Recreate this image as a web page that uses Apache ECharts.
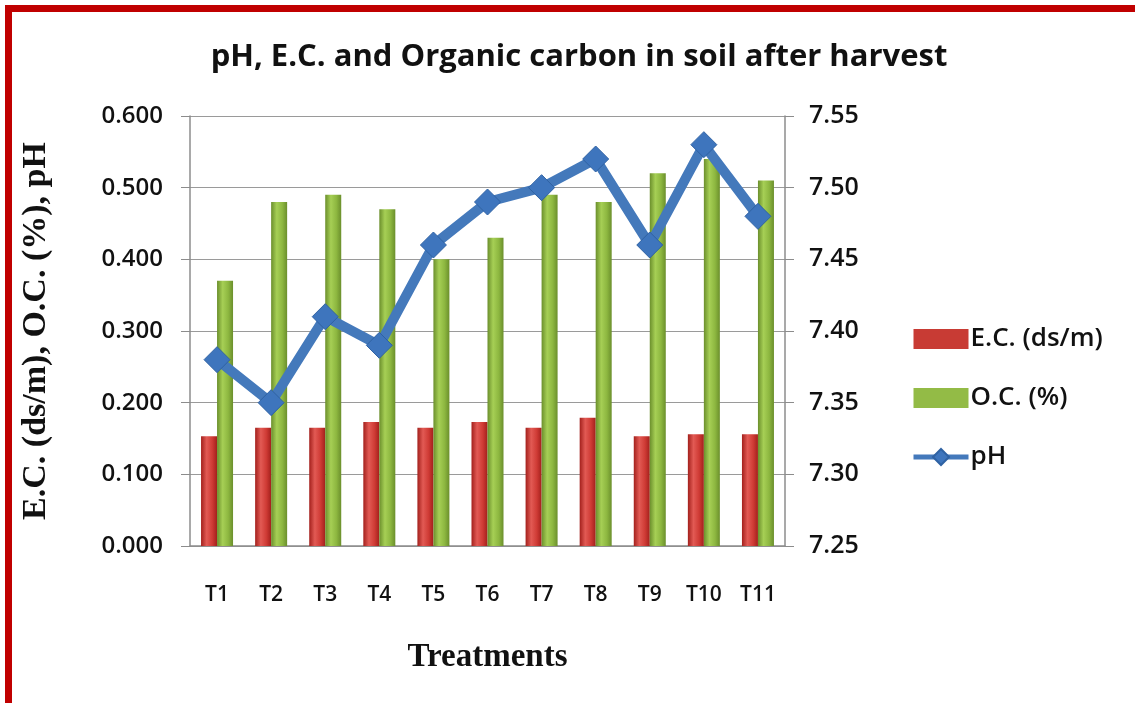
<!DOCTYPE html>
<html>
<head>
<meta charset="utf-8">
<script src="https://cdn.jsdelivr.net/npm/echarts@6/dist/echarts.min.js"></script>
<style>
  html, body { margin: 0; padding: 0; background: #fff; }
  #frame { position: absolute; left: 5px; top: 5px; width: 1130px; height: 698px;
           border-top: 7px solid #c00000; border-left: 7px solid #c00000; box-sizing: border-box; }
  #chart { position: absolute; left: 0; top: 0; width: 1135px; height: 703px; }
</style>
</head>
<body>
<div id="frame"></div>
<div id="chart"></div>
<script>
var treatments = ['T1', 'T2', 'T3', 'T4', 'T5', 'T6', 'T7', 'T8', 'T9', 'T10', 'T11'];
var ecValues = [0.153, 0.165, 0.165, 0.173, 0.165, 0.173, 0.165, 0.179, 0.153, 0.156, 0.156];
var ocValues = [0.37, 0.48, 0.49, 0.47, 0.40, 0.43, 0.49, 0.48, 0.52, 0.54, 0.51];
var phValues = [7.38, 7.35, 7.41, 7.39, 7.46, 7.49, 7.50, 7.52, 7.46, 7.53, 7.48];

var font = "'Open Sans', 'Noto Sans', sans-serif";
var serif = "'Liberation Serif', 'DejaVu Serif', serif";

// horizontal gradient to fake the cylinder shading of the bars
function cylinder(dark, mid, light) {
    return new echarts.graphic.LinearGradient(0, 0, 1, 0, [
        { offset: 0, color: dark },
        { offset: 0.35, color: light },
        { offset: 0.7, color: mid },
        { offset: 1, color: dark }
    ]);
}

var chart = echarts.init(document.getElementById('chart'));
var option = {
    animation: false,
    title: {
        text: 'pH, E.C. and Organic carbon in soil after harvest',
        left: 574,
        textAlign: 'center',
        top: 37,
        textStyle: { fontFamily: font, fontSize: 31, fontWeight: 'bold', color: '#111' }
    },
    legend: {
        orient: 'vertical',
        left: 906,
        top: 321,
        itemGap: 33,
        itemWidth: 55,
        itemHeight: 20,
        textStyle: { fontFamily: font, fontSize: 26, fontWeight: 600, lineHeight: 20, color: '#111', padding: [0, 0, 0, -3] },
        data: [
            { name: 'E.C. (ds/m)', icon: 'rect', itemStyle: { color: '#c83b34' } },
            { name: 'O.C. (%)', icon: 'rect', itemStyle: { color: '#93bb46' } },
            { name: 'pH', lineStyle: { width: 5 } }
        ]
    },
    grid: { left: 190, right: 350, top: 116, bottom: 157 },
    xAxis: {
        type: 'category',
        data: treatments,
        name: 'Treatments',
        nameLocation: 'middle',
        nameGap: 95,
        nameTextStyle: { fontFamily: serif, fontSize: 33, fontWeight: 'bold', color: '#111' },
        axisLine: { lineStyle: { color: '#8c8c8c', width: 1.5 } },
        axisTick: { show: false },
        axisLabel: { margin: 39, fontFamily: font, fontSize: 21, fontWeight: 600, color: '#111' }
    },
    yAxis: [{
        type: 'value',
        min: 0,
        max: 0.6,
        interval: 0.1,
        name: 'E.C. (ds/m), O.C. (%), pH',
        nameLocation: 'middle',
        nameGap: 137,
        nameTextStyle: { fontFamily: serif, fontSize: 34, fontWeight: 'bold', color: '#111' },
        axisLine: { show: true, lineStyle: { color: '#8c8c8c', width: 1.5 } },
        axisTick: { show: true, length: 9, lineStyle: { color: '#8c8c8c' } },
        splitLine: { lineStyle: { color: '#9a9a9a', width: 1.2 } },
        axisLabel: {
            margin: 27,
            fontFamily: font, fontSize: 24, fontWeight: 600, color: '#111',
            formatter: function (v) { return v.toFixed(3); }
        }
    }, {
        type: 'value',
        min: 7.25,
        max: 7.55,
        interval: 0.05,
        position: 'right',
        axisLine: { show: true, lineStyle: { color: '#8c8c8c', width: 1.5 } },
        axisTick: { show: true, length: 9, lineStyle: { color: '#8c8c8c' } },
        splitLine: { show: false },
        axisLabel: {
            margin: 24,
            fontFamily: font, fontSize: 25, fontWeight: 600, color: '#111',
            formatter: function (v) { return v.toFixed(2); }
        }
    }],
    series: [{
        name: 'E.C. (ds/m)',
        type: 'bar',
        barWidth: 16,
        barGap: '0%',
        itemStyle: { color: cylinder('#a3201c', '#cf3b35', '#e25a54') },
        data: ecValues
    }, {
        name: 'O.C. (%)',
        type: 'bar',
        barWidth: 16,
        itemStyle: { color: cylinder('#6b8f2c', '#8db740', '#a6cf55') },
        data: ocValues
    }, {
        name: 'pH',
        type: 'line',
        yAxisIndex: 1,
        symbol: 'diamond',
        symbolSize: 26,
        z: 5,
        lineStyle: { color: '#4479bb', width: 10 },
        itemStyle: { color: '#3e75bd', borderColor: '#2f62a3', borderWidth: 1 },
        data: phValues
    }]
};
chart.setOption(option);
</script>
</body>
</html>
